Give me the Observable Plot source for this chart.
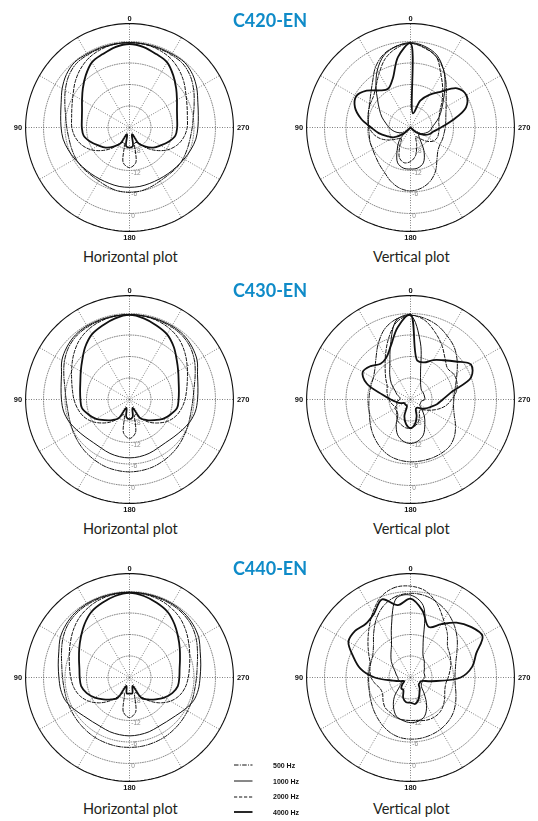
<!DOCTYPE html>
<html><head><meta charset="utf-8">
<script src="https://cdn.jsdelivr.net/npm/d3@7"></script>
<script src="https://cdn.jsdelivr.net/npm/@observablehq/plot@0.6"></script>
<style>
html,body{margin:0;padding:0;background:#fff;}
#page{position:relative;width:538px;height:821px;overflow:hidden;background:#fff;}
.title{position:absolute;left:0;width:538px;text-align:center;font-family:Lato,"Open Sans",sans-serif;font-weight:700;font-size:18px;line-height:18px;color:#0f8bc8;}
.cap{position:absolute;width:200px;text-align:center;font-family:Lato,"Open Sans",sans-serif;font-size:14.5px;line-height:14.5px;color:#231f20;}
.leg{position:absolute;font-family:"Liberation Sans",Arial,sans-serif;font-weight:700;font-size:7px;line-height:7px;color:#111;}
svg{position:absolute;will-change:transform;}
</style></head>
<body><div id="page"></div>
<script>
// ---------- tick / label data ----------
const models = ["C420-EN", "C430-EN", "C440-EN"];
const captions = ["Horizontal plot", "Vertical plot"];
const freqLabels = ["500 Hz", "1000 Hz", "2000 Hz", "4000 Hz"];
const ringDb = [-18, -12, -6, 0];
const ringLabels = ["-18", "-12", "-6", "0"];
const outerDb = 5;
const floorDb = -24;
const spokeAngles = [0, 30, 60, 90, 120, 150, 180, 210, 240, 270, 300, 330];
const angleTicks = [0, 90, 180, 270];
const angleTickLabels = ["0", "90", "180", "270"];
const hAngles = [0,10,20,30,40,50,60,70,80,90,100,110,120,130,140,150,160,170,180];
const vAngles = [0,10,20,30,40,50,60,70,80,90,100,110,120,130,140,150,160,170,180,190,200,210,220,230,240,250,260,270,280,290,300,310,320,330,340,350];

// ---------- series (dB), horizontal: 0..180 (symmetric), vertical: 0..350 ----------
const c420H_500  = [-0.3,-0.4,-0.5,-0.6,-0.8,-1.8,-3.3,-4.8,-5.9,-6.5,-6.8,-6.8,-6.7,-6.7,-6.9,-6.8,-6.4,-6.0,-5.9];
const c420H_1000 = [-0.3,-0.3,-0.3,-0.3,-0.2,-1.0,-2.3,-3.7,-4.5,-4.9,-5.2,-5.8,-6.4,-6.9,-7.2,-7.4,-7.4,-7.3,-7.3];
const c420H_2000 = [-0.3,-0.4,-0.8,-1.5,-2.7,-4.2,-5.8,-6.9,-7.6,-7.9,-8.6,-9.8,-11.6,-14.0,-16.5,-19.0,-19.5,-14.0,-12.8];
const c420H_4000 = [-0.7,-1.2,-2.2,-3.0,-5.0,-7.0,-8.7,-9.9,-10.5,-10.7,-11.0,-12.4,-14.0,-15.3,-17.0,-18.8,-22.0,-18.7,-18.4];

const c430H_500  = [-0.3,-0.4,-0.5,-0.6,-0.9,-1.7,-3.0,-4.5,-5.7,-6.3,-6.5,-6.3,-5.9,-5.4,-4.9,-4.5,-4.1,-3.9,-3.8];
const c430H_1000 = [-0.3,-0.3,-0.3,-0.3,-0.5,-1.2,-2.2,-3.8,-4.6,-5.0,-5.3,-6.0,-7.0,-7.8,-8.3,-8.3,-8.0,-7.8,-7.7];
const c430H_2000 = [-0.3,-0.4,-0.7,-1.3,-2.3,-3.8,-5.4,-6.8,-7.8,-8.5,-9.3,-10.3,-11.8,-13.8,-15.8,-18.0,-19.5,-14.5,-13.1];
const c430H_4000 = [-0.4,-1.0,-2.0,-3.0,-4.8,-6.8,-8.3,-9.4,-10.0,-10.3,-10.5,-11.8,-13.2,-15.0,-16.5,-18.0,-21.5,-19.0,-18.5];

const c440H_500  = [-0.2,-0.3,-0.4,-0.5,-0.8,-1.4,-2.5,-3.8,-4.8,-5.3,-5.5,-5.4,-5.3,-5.1,-4.9,-4.7,-4.6,-4.5,-4.5];
const c440H_1000 = [-0.2,-0.2,-0.2,-0.2,-0.4,-0.9,-1.7,-3.0,-3.8,-4.3,-4.5,-5.0,-6.2,-7.3,-7.9,-8.1,-7.9,-7.8,-7.7];
const c440H_2000 = [-0.3,-0.4,-0.7,-1.3,-2.2,-3.5,-4.9,-6.1,-7.0,-7.6,-8.2,-9.2,-10.8,-13.0,-15.5,-18.0,-19.5,-14.2,-12.8];
const c440H_4000 = [-0.4,-0.9,-1.8,-2.8,-4.5,-6.3,-7.8,-9.0,-9.8,-10.1,-10.3,-11.3,-12.8,-14.5,-16.0,-17.5,-21.5,-19.5,-19.5];

const c420V_500  = [-0.5,-1,-2.2,-4.5,-7.5,-9.5,-10.8,-11.5,-12,-12.3,-12.3,-12,-11.8,-11.3,-10.5,-9.5,-8,-6.8,-6.3,-6.8,-8,-10,-12.5,-14,-14.5,-14.5,-14.5,-14.3,-14,-13.5,-12.5,-11,-8.5,-5.5,-3,-1.3];
const c420V_1000 = [-0.3,-1,-2.5,-5.5,-9,-12,-14,-15.5,-17,-18,-19,-20,-21,-21.5,-19,-16.5,-13.5,-12.5,-12.4,-12.5,-13.5,-16.5,-20,-21,-20.5,-19.5,-18.5,-18,-17,-15.5,-14,-12,-9,-5.5,-2.5,-1];
const c420V_2000 = [-0.5,-1.5,-3.5,-6.5,-9,-10.5,-11,-11.5,-12,-12.5,-13.5,-15,-17,-19,-20,-18,-15,-14,-14.5,-16,-19,-21,-20,-18,-16.5,-16,-16,-16,-16,-15.5,-14.5,-12.5,-10,-7,-3,-1.5];
const c420V_4000 = [-0.5,-4,-9.5,-11.5,-10.5,-8,-6.5,-7.5,-10,-13,-15,-17,-18.5,-21,-24,-24,-24,-24,-24,-24,-24,-24,-24,-22,-20,-18.5,-17.5,-15.5,-12,-7.5,-6,-7,-11,-13.5,-16,-20];

const c430V_500  = [-0.5,-1.2,-3,-6,-9,-11,-12,-12.3,-12.4,-12.4,-12.2,-11.8,-11,-10,-9,-8,-7.2,-6.8,-6.6,-6.6,-6.6,-6.7,-7,-8,-9.5,-11,-11.8,-11.9,-11.5,-10.5,-9,-7,-5,-3.5,-2,-1];
const c430V_1000 = [-0.5,-1.5,-7.7,-12.5,-15,-17,-19,-20,-21,-21,-20,-20,-19,-19,-18.5,-16,-13.5,-12.2,-11.7,-12.2,-13.5,-16,-18,-20,-21,-21,-21,-20,-20,-20,-20,-20,-19.5,-18.4,-15.8,-8];
const c430V_2000 = [-0.5,-2,-6,-10,-13,-15,-16.5,-17,-17.5,-18,-18.5,-19,-19.5,-19,-18,-17,-16.5,-16,-16,-16.5,-17.5,-19,-20,-19.5,-18,-16,-14,-12.5,-11,-10.2,-10,-10.5,-9,-6.5,-4,-1.5];
const c430V_4000 = [-0.3,-3.5,-8,-10.5,-11,-9.5,-8.6,-11,-16,-18.5,-20,-21,-22,-22,-22,-22,-19,-17,-16,-17,-19,-21,-21,-20,-19,-18,-16.5,-15,-12.5,-6,-4.5,-7.5,-9.7,-11.3,-13,-13];

const c440V_500  = [-0.5,-1,-2.5,-5,-8,-10.5,-11.8,-12.2,-12.3,-12.3,-12.2,-11.8,-11.2,-10.4,-9.5,-8.5,-7.6,-7,-6.8,-6.8,-7,-7.3,-7.8,-8.5,-9.5,-10.5,-11.3,-11.6,-11.3,-10.5,-9,-7,-5,-3.2,-1.8,-0.8];
const c440V_1000 = [-1,-1.5,-8.5,-13.4,-15.5,-17,-18.5,-19.5,-20,-20.5,-20.5,-21,-21,-20,-17,-14.5,-12.5,-11.8,-11.4,-11.6,-12.5,-15,-18,-20,-20.5,-20.5,-20.5,-20,-20,-20,-19.5,-19,-18,-17,-13.7,-3.6];
const c440V_2000 = [1.5,1.5,0,-3,-6,-8.5,-10.5,-12,-12.5,-13,-14,-15,-15,-14,-13,-12.7,-12.2,-12,-12,-11.8,-11.3,-11.1,-11.3,-12,-13,-13.8,-14,-13.5,-12.8,-12,-11.3,-10.5,-8,-5.5,-2.2,0.5];
const c440V_4000 = [-2,-3.5,-0.8,-3.5,-4.5,-3.8,-4,-7,-9.8,-14,-19,-21,-22,-21,-20,-20,-18,-17,-17,-16.5,-17.5,-19,-20,-21,-21,-21,-18,-10,-6.5,-4.5,-0.8,-2,-4,-6.8,-9,-5];

// ---------- layout ----------
const colCx = [129.3, 410.3];
const rowCy = [126.7, 399.3, 676.7];
const titleBase = [26.7, 296.5, 575];
const capBase = [263, 535, 815];
const legendRows = [765, 781, 796.7, 812.3];

const panels = [
  {row:0, col:0, angles:hAngles, mirror:true,  series:[c420H_500, c420H_1000, c420H_2000, c420H_4000]},
  {row:0, col:1, angles:vAngles, mirror:false, series:[c420V_500, c420V_1000, c420V_2000, c420V_4000]},
  {row:1, col:0, angles:hAngles, mirror:true,  series:[c430H_500, c430H_1000, c430H_2000, c430H_4000]},
  {row:1, col:1, angles:vAngles, mirror:false, series:[c430V_500, c430V_1000, c430V_2000, c430V_4000]},
  {row:2, col:0, angles:hAngles, mirror:true,  series:[c440H_500, c440H_1000, c440H_2000, c440H_4000]},
  {row:2, col:1, angles:vAngles, mirror:false, series:[c440V_500, c440V_1000, c440V_2000, c440V_4000]}
];

const freqStyle = [
  {dash:"4.5,1.4,0.9,1.4", w:1.0},
  {dash:null, w:1.0},
  {dash:"3.2,1.8", w:1.0},
  {dash:null, w:1.8}
];
const INK = "#111";

const K = 103.9 / (outerDb - floorDb);  // px per dB
const SW = 270, SH = 240, SCX = 135, SCY = 120;

function rad(db) { return Math.max(0, db - floorDb); }
function px(a, db) { return -rad(db) * Math.sin(a * Math.PI / 180); }
function py(a, db) { return rad(db) * Math.cos(a * Math.PI / 180); }

function rows(angles, vals, mirror) {
  const out = angles.map((a, i) => ({a, db: vals[i]}));
  if (mirror) {
    for (let i = angles.length - 2; i >= 1; i--) out.push({a: 360 - angles[i], db: vals[i]});
  }
  return out;
}

const page = document.getElementById("page");

function makePanel(p) {
  const circlePts = d3.range(0, 361, 2);
  const ringPts = ringDb.flatMap(db => circlePts.map(a => ({db, a})));
  const outerPts = circlePts.map(a => ({db: outerDb, a}));
  const font = "Liberation Sans, Arial, sans-serif";
  const marks = [
    Plot.line(ringPts, {x: d => px(d.a, d.db), y: d => py(d.a, d.db), z: "db", stroke: "#6a6a6a", strokeWidth: 0.8, strokeDasharray: "0.9,1.5"}),
    Plot.link(spokeAngles, {x1: () => 0, y1: () => 0, x2: a => px(a, outerDb), y2: a => py(a, outerDb), stroke: "#4a4a4a", strokeWidth: 0.8, strokeDasharray: "0.9,1.6"}),
    Plot.line(outerPts, {x: d => px(d.a, d.db), y: d => py(d.a, d.db), stroke: INK, strokeWidth: 1.1}),
    Plot.text(ringDb, {x: () => 0, y: db => py(180, db), text: (d, i) => ringLabels[i], textAnchor: "start", dx: 1.8, dy: 2.2, fontSize: 6.5, fill: "#8a8a8a", fontFamily: font})
  ];
  const lab = [
    {textAnchor: "middle", lineAnchor: "bottom", dx: 0, dy: -3},
    {textAnchor: "end", lineAnchor: "middle", dx: -3.5, dy: 0},
    {textAnchor: "middle", lineAnchor: "top", dx: 0, dy: 3.5},
    {textAnchor: "start", lineAnchor: "middle", dx: 3.5, dy: 0}
  ];
  angleTicks.forEach((a, i) => {
    marks.push(Plot.text([a], {x: d => px(d, outerDb), y: d => py(d, outerDb), text: () => angleTickLabels[i], fontSize: 7.5, fontWeight: "bold", fill: INK, fontFamily: font, ...lab[i]}));
  });
  p.series.forEach((vals, k) => {
    const data = rows(p.angles, vals, p.mirror);
    const st = freqStyle[k];
    const opt = {x: d => px(d.a, d.db), y: d => py(d.a, d.db), curve: "catmull-rom-closed", stroke: INK, strokeWidth: st.w, strokeLinejoin: "round"};
    if (st.dash) opt.strokeDasharray = st.dash;
    marks.push(Plot.line(data, opt));
  });
  const svg = Plot.plot({
    width: SW, height: SH,
    x: {domain: [-SCX / K, (SW - SCX) / K], range: [0, SW], axis: null},
    y: {domain: [-(SH - SCY) / K, SCY / K], range: [SH, 0], axis: null},
    style: {background: "transparent", overflow: "visible"},
    marks
  });
  svg.style.left = (colCx[p.col] - SCX) + "px";
  svg.style.top = (rowCy[p.row] - SCY) + "px";
  page.appendChild(svg);
}

panels.forEach(makePanel);

models.forEach((m, i) => {
  const d = document.createElement("div");
  d.className = "title";
  d.textContent = m;
  d.style.top = (titleBase[i] - 0.887 * 18) + "px";
  d.style.left = "1px";
  page.appendChild(d);
});
rowCy.forEach((cy, r) => {
  captions.forEach((c, col) => {
    const d = document.createElement("div");
    d.className = "cap";
    d.textContent = c;
    d.style.left = (colCx[col] - 100 + 1) + "px";
    d.style.top = (capBase[r] - 0.887 * 14.5) + "px";
    page.appendChild(d);
  });
});
freqLabels.forEach((f, i) => {
  const y = legendRows[i];
  const s = d3.create("svg").attr("width", 20).attr("height", 4)
    .style("left", "233.5px").style("top", (y - 2) + "px");
  const st = freqStyle[i];
  const ln = s.append("line").attr("x1", 0).attr("x2", 18.5).attr("y1", 2).attr("y2", 2)
    .attr("stroke", INK).attr("stroke-width", st.w);
  if (st.dash) ln.attr("stroke-dasharray", st.dash);
  page.appendChild(s.node());
  const t = document.createElement("div");
  t.className = "leg";
  t.textContent = f;
  t.style.left = "273px";
  t.style.top = (y - 3.5) + "px";
  page.appendChild(t);
});
</script>
</body></html>
